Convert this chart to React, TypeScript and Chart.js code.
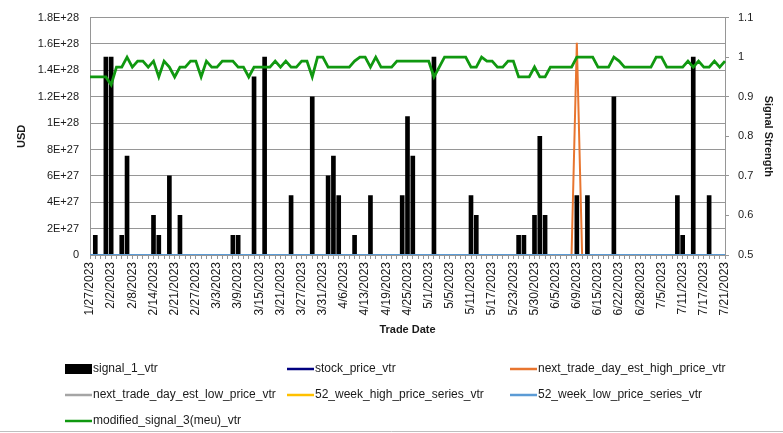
import React, { useEffect, useRef } from 'react';
import { Chart, registerables } from 'chart.js';

Chart.register(...registerables);

const categories = [
  '1/27/2023', '1/30/2023', '1/31/2023', '2/1/2023', '2/2/2023', '2/3/2023', '2/6/2023', '2/7/2023', '2/8/2023', '2/9/2023',
  '2/10/2023', '2/13/2023', '2/14/2023', '2/15/2023', '2/16/2023', '2/17/2023', '2/21/2023', '2/22/2023', '2/23/2023', '2/24/2023',
  '2/27/2023', '2/28/2023', '3/1/2023', '3/2/2023', '3/3/2023', '3/6/2023', '3/7/2023', '3/8/2023', '3/9/2023', '3/10/2023',
  '3/13/2023', '3/14/2023', '3/15/2023', '3/16/2023', '3/17/2023', '3/20/2023', '3/21/2023', '3/22/2023', '3/23/2023', '3/24/2023',
  '3/27/2023', '3/28/2023', '3/29/2023', '3/30/2023', '3/31/2023', '4/3/2023', '4/4/2023', '4/5/2023', '4/6/2023', '4/10/2023',
  '4/11/2023', '4/12/2023', '4/13/2023', '4/14/2023', '4/17/2023', '4/18/2023', '4/19/2023', '4/20/2023', '4/21/2023', '4/24/2023',
  '4/25/2023', '4/26/2023', '4/27/2023', '4/28/2023', '5/1/2023', '5/2/2023', '5/3/2023', '5/4/2023', '5/5/2023', '5/8/2023',
  '5/9/2023', '5/10/2023', '5/11/2023', '5/12/2023', '5/15/2023', '5/16/2023', '5/17/2023', '5/18/2023', '5/19/2023', '5/22/2023',
  '5/23/2023', '5/24/2023', '5/25/2023', '5/26/2023', '5/30/2023', '5/31/2023', '6/1/2023', '6/2/2023', '6/5/2023', '6/6/2023',
  '6/7/2023', '6/8/2023', '6/9/2023', '6/12/2023', '6/13/2023', '6/14/2023', '6/15/2023', '6/16/2023', '6/20/2023', '6/21/2023',
  '6/22/2023', '6/23/2023', '6/26/2023', '6/27/2023', '6/28/2023', '6/29/2023', '6/30/2023', '7/3/2023', '7/5/2023', '7/6/2023',
  '7/7/2023', '7/10/2023', '7/11/2023', '7/12/2023', '7/13/2023', '7/14/2023', '7/17/2023', '7/18/2023', '7/19/2023', '7/20/2023',
  '7/21/2023',
];

// signal_1_vtr (USD, left axis)
const signal1 = [
  0, 1.5e27, 0, 1.5e28, 1.5e28, 0, 1.5e27, 7.5e27, 0, 0,
  0, 0, 3e27, 1.5e27, 0, 6e27, 0, 3e27, 0, 0,
  0, 0, 0, 0, 0, 0, 0, 1.5e27, 1.5e27, 0,
  0, 1.35e28, 0, 1.5e28, 0, 0, 0, 0, 4.5e27, 0,
  0, 0, 1.2e28, 0, 0, 6e27, 7.5e27, 4.5e27, 0, 0,
  1.5e27, 0, 0, 4.5e27, 0, 0, 0, 0, 0, 4.5e27,
  1.05e28, 7.5e27, 0, 0, 0, 1.5e28, 0, 0, 0, 0,
  0, 0, 4.5e27, 3e27, 0, 0, 0, 0, 0, 0,
  0, 1.5e27, 1.5e27, 0, 3e27, 9e27, 3e27, 0, 0, 0,
  0, 0, 4.5e27, 0, 4.5e27, 0, 0, 0, 0, 1.2e28,
  0, 0, 0, 0, 0, 0, 0, 0, 0, 0,
  0, 4.5e27, 1.5e27, 0, 1.5e28, 0, 0, 4.5e27, 0, 0,
  0,
];

const stockPrice = [
  0, 0, 0, 0, 0, 0, 0, 0, 0, 0, 0, 0, 0, 0, 0, 0, 0, 0, 0, 0,
  0, 0, 0, 0, 0, 0, 0, 0, 0, 0, 0, 0, 0, 0, 0, 0, 0, 0, 0, 0,
  0, 0, 0, 0, 0, 0, 0, 0, 0, 0, 0, 0, 0, 0, 0, 0, 0, 0, 0, 0,
  0, 0, 0, 0, 0, 0, 0, 0, 0, 0, 0, 0, 0, 0, 0, 0, 0, 0, 0, 0,
  0, 0, 0, 0, 0, 0, 0, 0, 0, 0, 0, 0, 0, 0, 0, 0, 0, 0, 0, 0,
  0, 0, 0, 0, 0, 0, 0, 0, 0, 0, 0, 0, 0, 0, 0, 0, 0, 0, 0, 0,
  0,
];

const nextDayHigh = [
  0, 0, 0, 0, 0, 0, 0, 0, 0, 0, 0, 0, 0, 0, 0, 0, 0, 0, 0, 0,
  0, 0, 0, 0, 0, 0, 0, 0, 0, 0, 0, 0, 0, 0, 0, 0, 0, 0, 0, 0,
  0, 0, 0, 0, 0, 0, 0, 0, 0, 0, 0, 0, 0, 0, 0, 0, 0, 0, 0, 0,
  0, 0, 0, 0, 0, 0, 0, 0, 0, 0, 0, 0, 0, 0, 0, 0, 0, 0, 0, 0,
  0, 0, 0, 0, 0, 0, 0, 0, 0, 0, 0, 0, 1.61e28, 0, 0, 0, 0, 0, 0, 0,
  0, 0, 0, 0, 0, 0, 0, 0, 0, 0, 0, 0, 0, 0, 0, 0, 0, 0, 0, 0,
  0,
];

const nextDayLow = [
  0, 0, 0, 0, 0, 0, 0, 0, 0, 0, 0, 0, 0, 0, 0, 0, 0, 0, 0, 0,
  0, 0, 0, 0, 0, 0, 0, 0, 0, 0, 0, 0, 0, 0, 0, 0, 0, 0, 0, 0,
  0, 0, 0, 0, 0, 0, 0, 0, 0, 0, 0, 0, 0, 0, 0, 0, 0, 0, 0, 0,
  0, 0, 0, 0, 0, 0, 0, 0, 0, 0, 0, 0, 0, 0, 0, 0, 0, 0, 0, 0,
  0, 0, 0, 0, 0, 0, 0, 0, 0, 0, 0, 0, 0, 0, 0, 0, 0, 0, 0, 0,
  0, 0, 0, 0, 0, 0, 0, 0, 0, 0, 0, 0, 0, 0, 0, 0, 0, 0, 0, 0,
  0,
];

const week52High = [
  0, 0, 0, 0, 0, 0, 0, 0, 0, 0, 0, 0, 0, 0, 0, 0, 0, 0, 0, 0,
  0, 0, 0, 0, 0, 0, 0, 0, 0, 0, 0, 0, 0, 0, 0, 0, 0, 0, 0, 0,
  0, 0, 0, 0, 0, 0, 0, 0, 0, 0, 0, 0, 0, 0, 0, 0, 0, 0, 0, 0,
  0, 0, 0, 0, 0, 0, 0, 0, 0, 0, 0, 0, 0, 0, 0, 0, 0, 0, 0, 0,
  0, 0, 0, 0, 0, 0, 0, 0, 0, 0, 0, 0, 0, 0, 0, 0, 0, 0, 0, 0,
  0, 0, 0, 0, 0, 0, 0, 0, 0, 0, 0, 0, 0, 0, 0, 0, 0, 0, 0, 0,
  0,
];

const week52Low = [
  0, 0, 0, 0, 0, 0, 0, 0, 0, 0, 0, 0, 0, 0, 0, 0, 0, 0, 0, 0,
  0, 0, 0, 0, 0, 0, 0, 0, 0, 0, 0, 0, 0, 0, 0, 0, 0, 0, 0, 0,
  0, 0, 0, 0, 0, 0, 0, 0, 0, 0, 0, 0, 0, 0, 0, 0, 0, 0, 0, 0,
  0, 0, 0, 0, 0, 0, 0, 0, 0, 0, 0, 0, 0, 0, 0, 0, 0, 0, 0, 0,
  0, 0, 0, 0, 0, 0, 0, 0, 0, 0, 0, 0, 0, 0, 0, 0, 0, 0, 0, 0,
  0, 0, 0, 0, 0, 0, 0, 0, 0, 0, 0, 0, 0, 0, 0, 0, 0, 0, 0, 0,
  0,
];

// modified_signal_3(meu)_vtr (Signal Strength, right axis)
const modSignal3 = [
  0.95, 0.95, 0.95, 0.95, 0.93, 0.975, 0.975, 1.0, 0.975, 0.99,
  0.99, 0.975, 0.99, 0.95, 0.99, 0.975, 0.95, 0.975, 0.975, 0.99,
  0.99, 0.95, 0.99, 0.975, 0.975, 0.99, 0.99, 0.99, 0.975, 0.975,
  0.95, 0.975, 0.975, 0.975, 0.975, 0.99, 0.975, 0.99, 0.975, 0.975,
  0.99, 0.99, 0.95, 1.0, 1.0, 0.975, 0.975, 0.975, 0.975, 0.975,
  0.99, 1.0, 1.0, 0.975, 1.0, 0.975, 0.975, 0.975, 0.99, 0.99,
  0.99, 0.99, 0.99, 0.99, 0.99, 0.95, 0.975, 1.0, 1.0, 1.0,
  1.0, 1.0, 0.975, 0.975, 1.0, 0.99, 0.99, 0.975, 0.975, 0.99,
  0.99, 0.95, 0.95, 0.95, 0.975, 0.95, 0.95, 0.975, 0.975, 0.975,
  0.975, 0.975, 1.0, 1.0, 1.0, 1.0, 0.975, 0.975, 0.975, 1.0,
  0.99, 0.975, 0.975, 0.975, 0.975, 0.975, 0.975, 1.0, 1.0, 0.975,
  0.975, 0.975, 0.975, 0.99, 0.975, 0.99, 0.975, 0.975, 0.99, 0.975,
  0.99,
];

const seriesNames = [
  'signal_1_vtr',
  'stock_price_vtr',
  'next_trade_day_est_high_price_vtr',
  'next_trade_day_est_low_price_vtr',
  '52_week_high_price_series_vtr',
  '52_week_low_price_series_vtr',
  'modified_signal_3(meu)_vtr',
];

const FONT = '"Liberation Sans", Arial, sans-serif';
const TEXT = '#1a1a1a';
const AXIS = '#969696';

function formatE(v: number): string {
  if (v === 0) return '0';
  const [m, e] = v.toExponential(2).split('e');
  return `${parseFloat(m)}E${e}`;
}

const legendPlugin = {
  id: 'excelLegend',
  afterDraw(chart: any) {
    const ctx = chart.ctx;
    ctx.save();
    ctx.font = `12px ${FONT}`;
    ctx.textBaseline = 'middle';
    ctx.textAlign = 'left';
    const cols = [65, 287, 510];
    const rows = [369, 395, 421];
    chart.data.datasets.forEach((ds: any, i: number) => {
      const x = cols[i % 3];
      const y = rows[Math.floor(i / 3)];
      if (ds.type === 'bar') {
        ctx.fillStyle = ds.backgroundColor;
        ctx.fillRect(x, y - 5, 27, 10);
      } else {
        ctx.strokeStyle = ds.borderColor;
        ctx.lineWidth = 2.5;
        ctx.beginPath();
        ctx.moveTo(x, y);
        ctx.lineTo(x + 27, y);
        ctx.stroke();
      }
      ctx.fillStyle = TEXT;
      ctx.fillText(ds.label, x + 28, y);
    });
    ctx.strokeStyle = '#bfbfbf';
    ctx.lineWidth = 1;
    ctx.beginPath();
    ctx.moveTo(0, 431.5);
    ctx.lineTo(783, 431.5);
    ctx.stroke();
    ctx.restore();
  },
};

export default function App() {
  const canvasRef = useRef<HTMLCanvasElement | null>(null);

  useEffect(() => {
    if (!canvasRef.current) return;
    Chart.defaults.font.family = FONT;
    const lineBase = { type: 'line' as const, pointRadius: 0, tension: 0, fill: false, borderWidth: 2, yAxisID: 'y' };
    const chart = new Chart(canvasRef.current, {
      type: 'bar',
      data: {
        labels: categories,
        datasets: [
          { type: 'bar', label: seriesNames[0], data: signal1, backgroundColor: '#000000', barThickness: 4, yAxisID: 'y', order: 10 },
          { ...lineBase, label: seriesNames[1], data: stockPrice, borderColor: '#000080', backgroundColor: '#000080', order: 6 },
          { ...lineBase, label: seriesNames[2], data: nextDayHigh, borderColor: '#E8752F', backgroundColor: '#E8752F', order: 5 },
          { ...lineBase, label: seriesNames[3], data: nextDayLow, borderColor: '#A5A5A5', backgroundColor: '#A5A5A5', order: 4 },
          { ...lineBase, label: seriesNames[4], data: week52High, borderColor: '#FFC000', backgroundColor: '#FFC000', order: 3 },
          { ...lineBase, label: seriesNames[5], data: week52Low, borderColor: '#5B9BD5', backgroundColor: '#5B9BD5', order: 2 },
          { ...lineBase, label: seriesNames[6], data: modSignal3, borderColor: '#109810', backgroundColor: '#109810', borderWidth: 2.8, yAxisID: 'y1', order: 1 },
        ] as any,
      },
      options: {
        animation: false,
        responsive: false,
        layout: { padding: { top: 15, left: 11, right: 4, bottom: 92 } },
        plugins: { legend: { display: false }, tooltip: { enabled: false } },
        scales: {
          x: {
            type: 'category',
            offset: false,
            grid: { offset: false, drawOnChartArea: false, drawTicks: true, tickLength: 4, color: AXIS },
            border: { display: true, color: AXIS },
            ticks: {
              autoSkip: false,
              maxRotation: 90,
              minRotation: 90,
              padding: 3,
              color: TEXT,
              font: { size: 12 },
              callback: function (this: any, v: any, i: number) {
                return i % 4 === 0 ? categories[i] : '';
              },
            },
            title: { display: true, text: 'Trade Date', color: TEXT, font: { size: 11, weight: 'bold' }, padding: { top: 4, bottom: 4 } },
            afterFit: (s: any) => { s.height = 86; },
          },
          y: {
            position: 'left',
            min: 0,
            max: 1.8e28,
            grid: { color: AXIS, drawTicks: false },
            border: { display: true, color: AXIS },
            ticks: { stepSize: 2e27, padding: 11, color: TEXT, font: { size: 11 }, callback: (v: any) => formatE(Number(v)) },
            title: { display: true, text: 'USD', color: TEXT, font: { size: 11, weight: 'bold' }, padding: { top: 4, bottom: 4 } },
            afterFit: (s: any) => { s.width = 79; },
          },
          y1: {
            position: 'right',
            min: 0.5,
            max: 1.1,
            grid: { drawOnChartArea: false, drawTicks: true, tickLength: 4, color: AXIS },
            border: { display: true, color: AXIS },
            ticks: { stepSize: 0.1, padding: 9, color: TEXT, font: { size: 11 }, callback: (v: any) => String(Math.round(Number(v) * 10) / 10) },
            title: { display: true, text: 'Signal Strength', color: TEXT, font: { size: 11, weight: 'bold' }, padding: { top: 4, bottom: 4 } },
            afterFit: (s: any) => { s.width = 54; },
          },
        },
      } as any,
      plugins: [legendPlugin],
    });
    return () => chart.destroy();
  }, []);

  return (
    <div style={{ position: 'absolute', left: 0, top: 0, width: 783, height: 433, background: '#ffffff' }}>
      <canvas ref={canvasRef} width={783} height={433} style={{ display: 'block' }} />
    </div>
  );
}
